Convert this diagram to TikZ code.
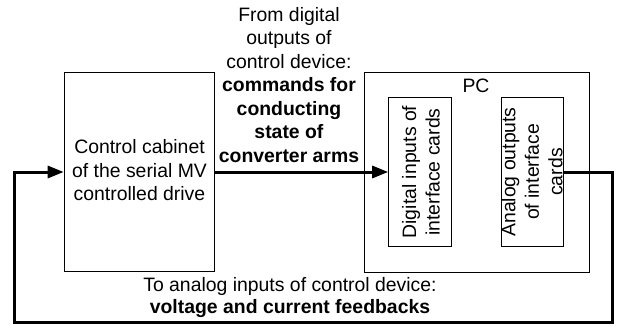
\documentclass[tikz,border=0pt]{standalone}
\usepackage{fontspec}
\setmainfont{Liberation Sans}
\usetikzlibrary{arrows.meta}
\begin{document}
\begin{tikzpicture}[x=1pt,y=-1pt,
  lbl/.style={inner sep=0pt,align=center,font=\fontsize{19.4}{23.5}\selectfont},
  blk/.style={draw,line width=1pt,inner sep=0pt},
  sig/.style={line width=3pt,-{Triangle[length=16pt,width=12pt]}}]
\useasboundingbox (0,0) rectangle (619,325);
% main blocks
\node[blk,minimum width=150pt,minimum height=199pt] (cab) at (139.2,172) {};
\node[blk,minimum width=225pt,minimum height=200pt] (pc) at (476.6,172.3) {};
\node[blk,minimum width=62.6pt,minimum height=149.4pt] (din) at (420,172) {};
\node[blk,minimum width=62pt,minimum height=149.4pt] (aout) at (532.3,172) {};
% texts
\node[lbl] (cabtxt) at (139.5,170.5) {Control cabinet\\of the serial MV\\controlled drive};
\node[lbl] (pctxt) at (476,85.7) {PC};
\node[lbl,rotate=90] (dintxt) at (421,172) {Digital inputs of\\interface cards};
\node[lbl,rotate=90] (aouttxt) at (532,172) {Analog outputs\\of interface\\cards};
\node[lbl,anchor=north] (cmdtxt) at (289,6.8) {From digital\\outputs of\\control device:\\\textbf{commands for}\\\textbf{conducting}\\\textbf{state of}\\\textbf{converter arms}};
\node[lbl,anchor=north,font=\fontsize{19.4}{22.6}\selectfont] (fbtxt) at (290,276.8) {To analog inputs of control device:\\\textbf{voltage and current feedbacks}};
% connectors
\draw[sig] (cab.east) -- (din.west);
\coordinate (c1) at (612.3,172);
\coordinate (c2) at (612.3,322.3);
\coordinate (c3) at (14,322.3);
\coordinate (c4) at (14,172);
\draw[sig] (aout.east) -- (c1) -- (c2) -- (c3) -- (c4) -- (cab.west);
\end{tikzpicture}
\end{document}
